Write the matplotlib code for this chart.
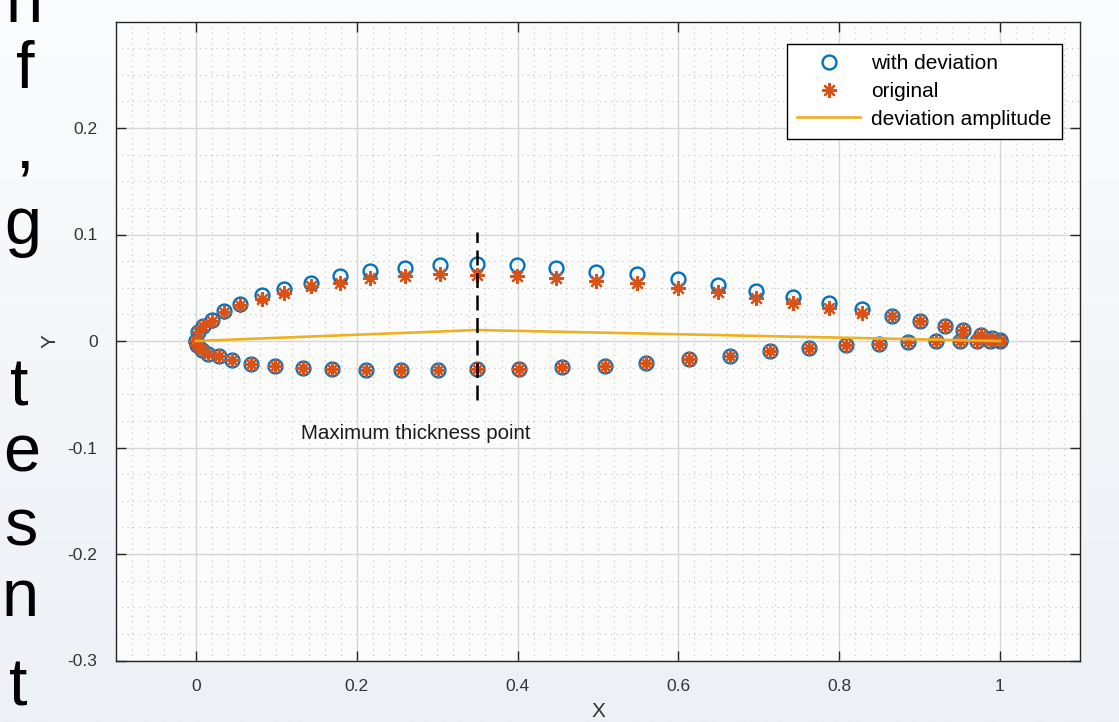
import numpy as np
import matplotlib
matplotlib.use('Agg')
import matplotlib.pyplot as plt
from matplotlib.colors import LinearSegmentedColormap
from matplotlib.ticker import MultipleLocator

plt.rcParams['font.family'] = ['Liberation Sans', 'DejaVu Sans']

# upper surface, trailing edge -> leading edge
x_upper = [1.0, 0.99, 0.976, 0.954, 0.931, 0.901, 0.866, 0.828, 0.787, 0.743, 0.696,
           0.649, 0.600, 0.549, 0.497, 0.448, 0.399, 0.349, 0.303, 0.260, 0.216,
           0.179, 0.143, 0.109, 0.082, 0.055, 0.035, 0.020, 0.009, 0.002, 0.0]
y_upper_dev = [0.001, 0.003, 0.0056, 0.010, 0.014, 0.019, 0.0235, 0.030, 0.0357, 0.0416, 0.047,
               0.0523, 0.0579, 0.0626, 0.0651, 0.0689, 0.0712, 0.0726, 0.0714, 0.0688, 0.0657,
               0.061, 0.0547, 0.0485, 0.0432, 0.035, 0.028, 0.020, 0.014, 0.008, 0.0]
y_upper_orig = [0.001, 0.003, 0.0056, 0.010, 0.014, 0.019, 0.0235, 0.0266, 0.0313, 0.036, 0.0407,
                0.0463, 0.0495, 0.054, 0.056, 0.059, 0.061, 0.062, 0.0626, 0.061, 0.059,
                0.054, 0.0516, 0.0454, 0.039, 0.034, 0.027, 0.019, 0.014, 0.008, 0.0]

# lower surface, leading edge -> trailing edge (same for both)
x_lower = [0.0, 0.001, 0.007, 0.015, 0.028, 0.045, 0.068, 0.098, 0.133, 0.169, 0.211,
           0.255, 0.301, 0.349, 0.402, 0.455, 0.509, 0.560, 0.613, 0.664, 0.714,
           0.762, 0.808, 0.849, 0.886, 0.921, 0.950, 0.971, 0.988, 1.0]
y_lower = [0.0, -0.004, -0.0088, -0.012, -0.0145, -0.018, -0.0213, -0.0235, -0.0257, -0.0266, -0.0268,
           -0.0268, -0.0268, -0.0266, -0.026, -0.0245, -0.0235, -0.0204, -0.0172, -0.0141, -0.0094,
           -0.0063, -0.004, -0.0025, -0.0007, 0.0, 0.0, 0.0, 0.0, 0.0]

# deviation amplitude curve
x_amp = [0.0, 0.35, 1.0]
y_amp = [0.0, 0.0103, 0.0]

# maximum thickness marker
x_tmax = 0.35
y_tmax_range = [-0.055, 0.102]

# cropped slide text on the left edge
side_letters = ['n', 'f', ',', 'g', 't', 'e', 's', 'n', 't']

W, H = 1119, 722
fig = plt.figure(figsize=(W / 100, H / 100), dpi=100)

# slide background gradient
bg = fig.add_axes([0, 0, 1, 1], zorder=0)
cmap = LinearSegmentedColormap.from_list('bg', ['#fbfcfd', '#edf0f6'])
bg.imshow(np.linspace(0, 1, 256).reshape(-1, 1), aspect='auto', cmap=cmap, extent=[0, 1, 0, 1])
bg.axis('off')

# left-edge letters (pixel positions: left, baseline)
letter_pos = [(6, 22), (16, 88), (15, 168), (4, 244), (10, 406), (3, 472), (4, 546), (2, 616), (9, 706)]
for ch, (px, py) in zip(side_letters, letter_pos):
    fig.text(px / W, 1 - py / H, ch, fontsize=48, color='black', va='baseline', ha='left')

ax = fig.add_axes([115.6 / W, (H - 660.5) / H, 964.8 / W, 639 / H], zorder=1)
ax.set_facecolor('#fcfcfd')

x_all = x_upper + x_lower
ax.plot(x_all, y_upper_dev + y_lower, 'o', mfc='none', mec='#0072BD', ms=10, mew=1.7,
        label='with deviation', zorder=3)
ax.plot(x_all, y_upper_orig + y_lower, linestyle='none', marker=(8, 2, 0), color='#D95319',
        ms=10.5, mew=1.6, label='original', zorder=4)
ax.plot(x_amp, y_amp, color='#EDB120', lw=1.9, label='deviation amplitude', zorder=5)
ax.plot([x_tmax, x_tmax], y_tmax_range, color='black', lw=1.8, dashes=(6, 3), zorder=6)
ax.text(0.13, -0.087, 'Maximum thickness point', fontsize=14.8, color='#1a1a1a',
        va='center', ha='left')

ax.set_xlim(-0.1, 1.1)
ax.set_ylim(-0.3, 0.3)
ax.set_xticks([0, 0.2, 0.4, 0.6, 0.8, 1])
ax.set_xticklabels(['0', '0.2', '0.4', '0.6', '0.8', '1'])
ax.set_yticks([-0.3, -0.2, -0.1, 0, 0.1, 0.2])
ax.set_yticklabels(['-0.3', '-0.2', '-0.1', '0', '0.1', '0.2'])
ax.xaxis.set_minor_locator(MultipleLocator(0.02))
ax.yaxis.set_minor_locator(MultipleLocator(0.025))
ax.grid(which='major', color='#d6d6d6', lw=1.0, zorder=0)
ax.grid(which='minor', color='#c4c4c4', lw=0.8, linestyle=(0, (1, 4)), zorder=0)
ax.set_axisbelow(True)
ax.tick_params(which='major', direction='in', length=7, width=1, top=True, right=True,
               labelsize=12.5, labelcolor='#333333', color='#262626', pad=13)
ax.tick_params(which='minor', length=0)
for s in ax.spines.values():
    s.set_color('#262626')
    s.set_linewidth(1.0)

ax.set_xlabel('X', fontsize=15, color='#333333', labelpad=6)
ax.set_ylabel('Y', fontsize=15, color='#333333', labelpad=6)

leg = ax.legend(loc='upper right', bbox_to_anchor=(0.981, 0.965), borderaxespad=0,
                fontsize=15, frameon=True, fancybox=False, framealpha=1, edgecolor='black',
                handlelength=3.0, handletextpad=0.55, labelspacing=0.42, borderpad=0.5)
leg.get_frame().set_linewidth(1.0)

fig.savefig('out.png', dpi=100)
